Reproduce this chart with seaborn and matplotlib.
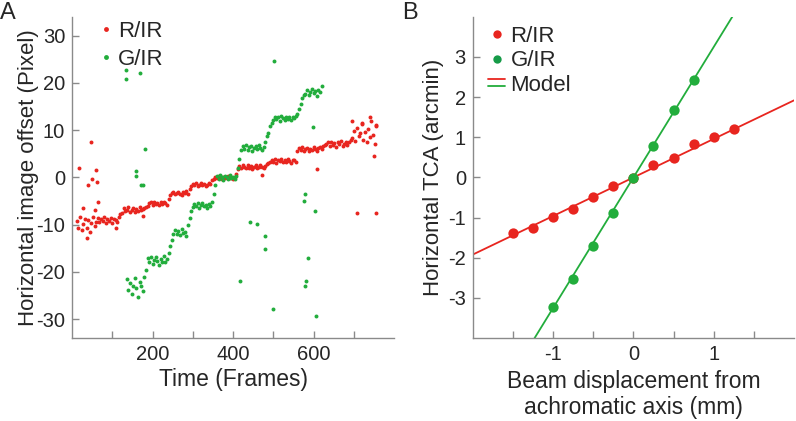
import numpy as np
import pandas as pd
import matplotlib
matplotlib.use("Agg")
import matplotlib.pyplot as plt
import seaborn as sns
from matplotlib.lines import Line2D
from matplotlib.legend_handler import HandlerBase

# ── Style ───────────────────────────────────────────────────
sns.set_style("white")
plt.rcParams['font.family'] = ['Liberation Sans', 'DejaVu Sans']
plt.rcParams['axes.unicode_minus'] = False

RED = '#e8251f'
GREEN = '#22ad3c'
SPINE = '#8a8a8a'

# ── Panel A data: frame-by-frame offsets (sampled every 4 frames) ──
red_start, red_step = 12, 4
red_offset = [
    # frames 12-60
    -9.2, -10.6, -8.4, -11.2, -9.8, -8.7, -10.8, -9.0, -11.6, -9.6, -8.3, -10.3, -9.5,
    # 64-120
    -8.5, -9.4, -8.7, -9.2, -8.3, -9.6, -8.9, -9.3, -8.6, -9.7, -8.8, -9.0, -9.4, -8.4, -7.8,
    # 124-184
    -7.5, -6.5, -7.1, -6.9, -6.3, -7.3, -6.8, -6.5, -7.3, -6.6, -7.0, -6.3, -6.9, -6.7, -6.4, -6.2,
    # 188-240
    -6.0, -5.5, -5.2, -5.8, -5.2, -5.7, -5.4, -5.9, -5.3, -5.7, -5.2, -5.5, -5.8, -4.6,
    # 244-292
    -3.7, -3.3, -3.0, -3.6, -3.2, -3.0, -3.5, -3.7, -3.1, -3.3, -2.9, -3.4, -2.4,
    # 296-348
    -1.9, -1.3, -1.7, -1.1, -1.8, -1.5, -1.2, -1.7, -1.3, -1.9, -1.5, -1.2, -1.4, -0.6,
    # 352-408
    -0.3, 0.2, -0.2, 0.3, 0.0, -0.3, 0.2, -0.1, 0.0, 0.3, -0.2, 0.1, -0.3, 0.0, 0.8,
    # 412-488
    1.7, 2.5, 2.0, 2.7, 2.3, 1.9, 2.6, 2.1, 2.5, 1.8, 2.3, 2.7, 2.0, 2.2, 2.6, 2.3, 1.9, 2.5, 2.8, 3.0,
    # 492-556
    3.2, 3.8, 3.3, 3.9, 3.1, 3.7, 3.5, 4.0, 3.2, 3.7, 3.3, 3.9, 3.5, 3.1, 3.8, 3.6, 3.3,
    # 560-632
    5.6, 6.2, 5.8, 6.4, 5.7, 6.0, 6.3, 5.5, 6.1, 5.8, 6.4, 6.0, 5.7, 6.2, 6.5, 6.0, 6.6, 6.8, 7.0,
    # 636-692
    7.4, 6.7, 7.6, 6.8, 7.3, 6.5, 7.5, 7.0, 7.8, 6.7, 7.1, 7.6, 6.8, 7.4, 8.0,
    # 696-756
    8.4, 9.9, 7.8, 10.5, 8.8, 9.4, 11.3, 8.0, 9.7, 7.5, 10.2, 8.6, 12.0, 9.0, 7.1, 10.9,
]
red_out_frames = [18, 26, 37, 39, 48, 50, 58, 59, 63, 64, 109, 176, 473, 608,
                  696, 707, 720, 740, 751, 755, 755]
red_out_offset = [2.0, -6.5, -12.9, -1.5, 7.4, -0.4, -6.9, 1.5, -1.0, -5.3, -10.7, -8.1, 0.6, 1.8,
                  12.0, -7.5, 11.6, 12.7, 4.5, 11.1, -7.6]

green_start, green_step = 136, 4
green_offset = [
    # frames 136-184
    -21.5, -23.8, -22.4, -24.6, -22.9, -21.2, -23.5, -25.3, -22.1, -23.0, -24.1, -21.0, -19.5,
    # 188-236
    -17.1, -17.9, -16.8, -18.3, -17.4, -16.9, -17.7, -18.6, -17.2, -17.8, -16.6, -18.0, -17.3,
    # 240-252
    -16.0, -14.5, -13.2, -12.0,
    # 256-284
    -11.2, -11.9, -11.4, -12.2, -11.0, -11.7, -11.5, -12.4,
    # 288-296
    -10.0, -8.5, -7.0,
    # 300-348
    -6.2, -5.6, -6.0, -5.4, -6.4, -5.9, -5.5, -6.1, -5.8, -6.5, -5.7, -6.0, -5.1,
    # 352-356
    -3.5, -1.5,
    # 360-408
    0.3, -0.4, 0.5, 0.0, -0.5, 0.3, 0.1, -0.3, 0.6, -0.1, 0.2, -0.4, 0.4,
    # 412-416
    2.0, 4.0,
    # 420-476
    5.8, 6.6, 6.1, 6.8, 5.9, 6.4, 6.7, 5.7, 6.3, 6.6, 6.0, 6.9, 6.2, 5.9, 6.4,
    # 480-496
    7.5, 8.8, 9.5, 10.8, 11.5,
    # 500-556
    12.1, 12.9, 12.3, 12.7, 12.0, 13.0, 12.5, 12.2, 12.8, 12.4, 12.7, 12.1, 12.9, 12.5, 13.0,
    # 560-576
    13.5, 14.5, 15.5, 16.8, 17.5,
    # 580-620
    17.7, 18.5, 17.5, 18.1, 18.7, 17.8, 18.3, 17.3, 18.6, 18.0, 19.4,
]
green_out_frames = [133, 133, 169, 181, 158, 160, 171, 177, 501, 443, 460, 480, 480, 418,
                    499, 579, 576, 603, 586, 582, 578, 607, 599]
green_out_offset = [22.7, 20.9, 22.1, 6.1, 1.3, 0.3, -1.6, -1.7, 24.7, -9.4, -9.8, -12.5, -15.2, -22.0,
                    -27.9, -3.4, -5.0, -7.1, -17.1, -22.0, -23.0, -29.3, 10.7]

a_xticks = [100, 200, 300, 400, 500, 600, 700]
a_xticklabels = ['', '200', '', '400', '', '600', '']
a_yticks = [-30, -20, -10, 0, 10, 20, 30]

# ── Panel B data: TCA vs beam displacement ──────────────────
r_disp = [-1.5, -1.25, -1.0, -0.75, -0.5, -0.25, 0.0, 0.25, 0.5, 0.75, 1.0, 1.25]
r_tca = [-1.38, -1.27, -0.98, -0.79, -0.48, -0.22, -0.02, 0.31, 0.49, 0.83, 1.01, 1.21]
g_disp = [-1.0, -0.75, -0.5, -0.25, 0.0, 0.25, 0.5, 0.75]
g_tca = [-3.23, -2.54, -1.71, -0.89, -0.02, 0.79, 1.68, 2.42]
model_disp = [-2.0, 2.0]
model_r = [-1.92, 1.92]
model_g_disp = [-1.4, 1.4]
model_g = [-4.55, 4.55]

b_xticks = [-1.5, -1.0, -0.5, 0.0, 0.5, 1.0, 1.5]
b_xticklabels = ['', '-1', '', '0', '', '1', '']
b_yticks = [-3, -2, -1, 0, 1, 2, 3]

# build frames for panel A
red_df = pd.DataFrame({'frame': red_start + red_step * np.arange(len(red_offset)),
                       'offset': red_offset})
red_df = pd.concat([red_df, pd.DataFrame({'frame': red_out_frames, 'offset': red_out_offset})])
green_df = pd.DataFrame({'frame': green_start + green_step * np.arange(len(green_offset)),
                         'offset': green_offset})
green_df = pd.concat([green_df, pd.DataFrame({'frame': green_out_frames, 'offset': green_out_offset})])


class HandlerStacked(HandlerBase):
    # two short lines, one above the other
    def create_artists(self, legend, orig_handle, xdescent, ydescent, width, height, fontsize, trans):
        out = []
        for i, h in enumerate(orig_handle):
            y = -ydescent + height * (0.72 - 0.42 * i)
            ln = Line2D([-xdescent, -xdescent + width], [y, y], color=h.get_color(), lw=h.get_linewidth())
            ln.set_transform(trans)
            out.append(ln)
        return out


def style_axis(ax):
    sns.despine(ax=ax)
    for s in ['left', 'bottom']:
        ax.spines[s].set_color(SPINE)
        ax.spines[s].set_linewidth(1.0)
    ax.tick_params(bottom=True, left=True, direction='in', length=5, width=1.0,
                   color=SPINE, labelsize=14.5, pad=5)


fig = plt.figure(figsize=(7.96, 4.21), dpi=100)

# ── Panel A ─────────────────────────────────────────────────
axA = fig.add_axes([0.0905, 0.197, 0.4045, 0.763])
sns.scatterplot(data=red_df, x='frame', y='offset', color=RED, s=8, linewidth=0, ax=axA, legend=False)
sns.scatterplot(data=green_df, x='frame', y='offset', color=GREEN, s=8, linewidth=0, ax=axA, legend=False)
axA.set_xlim(0, 800)
axA.set_ylim(-34, 34)
axA.set_xticks(a_xticks)
axA.set_xticklabels(a_xticklabels)
axA.set_yticks(a_yticks)
axA.set_xlabel('Time (Frames)', fontsize=16.5, labelpad=3)
axA.set_ylabel('Horizontal image offset (Pixel)', fontsize=16, labelpad=-2)
style_axis(axA)
hA = [Line2D([], [], ls='', marker='o', ms=3.5, color=RED, mec='none'),
      Line2D([], [], ls='', marker='o', ms=3.5, color=GREEN, mec='none')]
axA.legend(hA, ['R/IR', 'G/IR'], loc='upper left', bbox_to_anchor=(0.03, 1.035), frameon=False,
           fontsize=16, handlelength=0.8, handletextpad=0.15, labelspacing=0.3, borderpad=0.2)
fig.text(0.0, 0.995, 'A', fontsize=17, va='top', ha='left')

# ── Panel B ─────────────────────────────────────────────────
axB = fig.add_axes([0.594, 0.197, 0.4035, 0.763])
sns.lineplot(x=model_disp, y=model_r, color=RED, lw=1.3, ax=axB)
sns.lineplot(x=model_g_disp, y=model_g, color=GREEN, lw=1.3, ax=axB)
sns.scatterplot(x=r_disp, y=r_tca, color=RED, s=55, linewidth=0, ax=axB, zorder=3)
sns.scatterplot(x=g_disp, y=g_tca, color=GREEN, s=55, linewidth=0, ax=axB, zorder=3)
axB.set_xlim(-2, 2)
axB.set_ylim(-4, 4)
axB.set_xticks(b_xticks)
axB.set_xticklabels(b_xticklabels)
axB.set_yticks(b_yticks)
axB.set_xlabel('Beam displacement from\nachromatic axis (mm)', fontsize=16.5, labelpad=4)
axB.set_ylabel('Horizontal TCA (arcmin)', fontsize=16, labelpad=3)
style_axis(axB)
hB = [Line2D([], [], ls='', marker='o', ms=6, color=RED, mec='none'),
      Line2D([], [], ls='', marker='o', ms=6, color='#169b48', mec='none'),
      (Line2D([], [], color=RED, lw=1.3), Line2D([], [], color=GREEN, lw=1.3))]
axB.legend(hB, ['R/IR', 'G/IR', 'Model'], loc='upper left', bbox_to_anchor=(0.0, 1.02), frameon=False,
           fontsize=16, handlelength=0.75, handletextpad=0.25, labelspacing=0.15, borderpad=0.2,
           handler_map={tuple: HandlerStacked()})
fig.text(0.505, 0.995, 'B', fontsize=17, va='top', ha='left')

fig.savefig('out.png', dpi=100)
